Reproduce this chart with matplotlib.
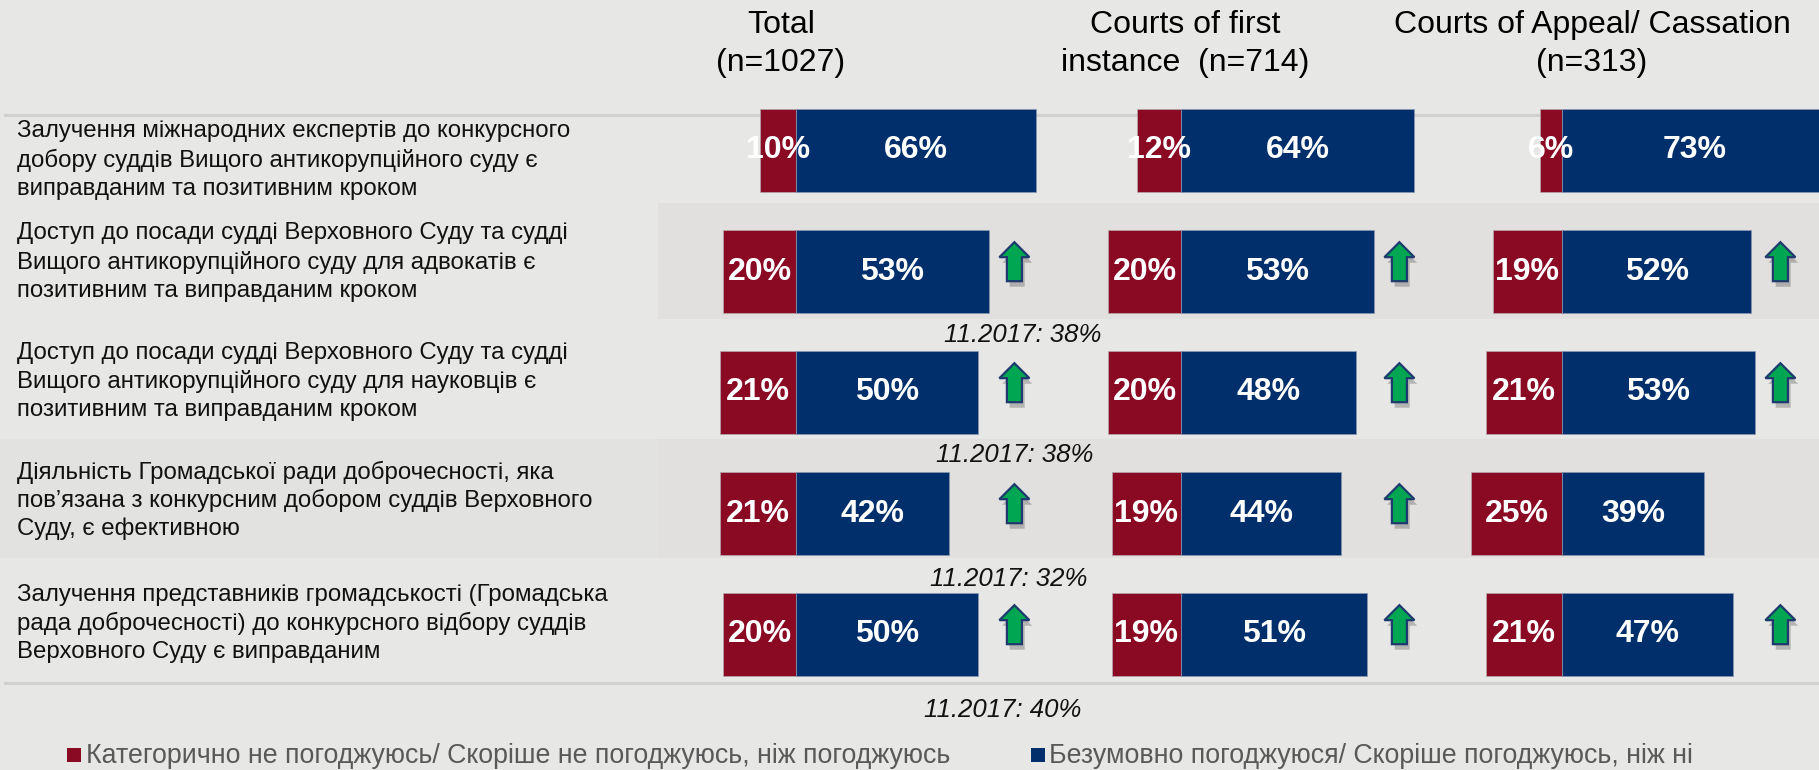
import matplotlib
matplotlib.use("Agg")
import matplotlib.pyplot as plt
from matplotlib.patches import Rectangle, FancyArrow
from matplotlib.lines import Line2D
from matplotlib import transforms as mtrans
import matplotlib.patheffects as pe

plt.rcParams['font.family'] = ['Liberation Sans', 'DejaVu Sans']

# ---- data -------------------------------------------------------------
statements = [
    "Залучення міжнародних експертів до конкурсного\nдобору суддів Вищого антикорупційного суду є\nвиправданим та позитивним кроком",
    "Доступ до посади судді Верховного Суду та судді\nВищого антикорупційного суду для адвокатів є\nпозитивним та виправданим кроком",
    "Доступ до посади судді Верховного Суду та судді\nВищого антикорупційного суду для науковців є\nпозитивним та виправданим кроком",
    "Діяльність Громадської ради доброчесності, яка\nпов’язана з конкурсним добором суддів Верховного\nСуду, є ефективною",
    "Залучення представників громадськості (Громадська\nрада доброчесності) до конкурсного відбору суддів\nВерховного Суду є виправданим",
]

column_titles = [
    "Total\n(n=1027)",
    "Courts of first\ninstance  (n=714)",
    "Courts of Appeal/ Cassation\n(n=313)",
]

total_disagree = [10, 20, 21, 21, 20]
total_agree = [66, 53, 50, 42, 50]
first_disagree = [12, 20, 20, 19, 19]
first_agree = [64, 53, 48, 44, 51]
appeal_disagree = [6, 19, 21, 25, 21]
appeal_agree = [73, 52, 53, 39, 47]

total_up = [False, True, True, True, True]
first_up = [False, True, True, True, True]
appeal_up = [False, True, True, False, True]

notes_2017 = ["11.2017: 38%", "11.2017: 38%", "11.2017: 32%", "11.2017: 40%"]

legend_labels = [
    "Категорично не погоджуюсь/ Скоріше не погоджуюсь, ніж погоджуюсь",
    "Безумовно погоджуюся/ Скоріше погоджуюсь, ніж ні",
]

# ---- style ------------------------------------------------------------
BG = "#e7e7e5"
BAND = "#e1e0de"
RED = "#8a0a24"
BLUE = "#002f6b"
GREEN = "#00a651"
ARROW_EDGE = "#1f3a6e"
RULE = "#d0d0d0"
LEGEND_TXT = "#595959"

W, H, DPI = 1819, 770, 100
PX_PER_PCT = 3.64
XMIN, XMAX = -30, 70
ROW_TOP, ROW_PITCH = 90, 121
N = len(statements)
BAR_H = 83 / ROW_PITCH
DIVIDERS = [796, 1181, 1562]          # where disagree/agree meet, per column
TITLE_X = [781, 1185, 1592]
LABEL_DY = [9.5, -9.5, -11, -13, -11]  # text block centre vs bar centre, px
NOTE_X = [62.4, 60.2, 58.5, 56.9]
NOTE_DY = [0.525, 0.517, 0.54, 0.62]

fig = plt.figure(figsize=(W / DPI, H / DPI), dpi=DPI)
fig.patch.set_facecolor(BG)


def px_rect(x0, y0, w, h):
    return [x0 / W, 1 - (y0 + h) / H, w / W, h / H]


# background bands and rules
fig.add_artist(Rectangle((658 / W, 1 - 319 / H), 1 - 658 / W, 116 / H,
                         transform=fig.transFigure, color=BAND, zorder=-3, lw=0))
fig.add_artist(Rectangle((0, 1 - 558 / H), 658 / W, 119 / H,
                         transform=fig.transFigure, color="#e2e2e0", zorder=-3, lw=0))
fig.add_artist(Rectangle((658 / W, 1 - 558 / H), 1 - 658 / W, 119 / H,
                         transform=fig.transFigure, color=BAND, zorder=-3, lw=0))
for yy in (115, 683):
    fig.add_artist(Line2D([5 / W, 1], [1 - yy / H] * 2, transform=fig.transFigure,
                          color=RULE, lw=2.2, zorder=-2))

columns = [
    (total_disagree, total_agree, total_up),
    (first_disagree, first_agree, first_up),
    (appeal_disagree, appeal_agree, appeal_up),
]

axes = []
ys = list(range(N))
for c, (dis, agr, up) in enumerate(columns):
    ax = fig.add_axes(px_rect(DIVIDERS[c] + XMIN * PX_PER_PCT, ROW_TOP,
                              (XMAX - XMIN) * PX_PER_PCT, N * ROW_PITCH))
    ax.set_xlim(XMIN, XMAX)
    ax.set_ylim(N - 0.5, -0.5)
    ax.axis("off")
    ax.patch.set_alpha(0)
    axes.append(ax)

    ax.barh(ys, dis, left=[-d for d in dis], height=BAR_H, color=RED,
            edgecolor="#b3a9ad", linewidth=0.5, clip_on=False)
    ax.barh(ys, agr, left=0, height=BAR_H, color=BLUE,
            edgecolor="#8a97b3", linewidth=0.5, clip_on=False)

    for i in ys:
        ax.text(-dis[i] / 2, i, f"{dis[i]}%", ha="center", va="center",
                color="white", fontsize=23, fontweight="bold")
        ax.text(agr[i] / 2, i, f"{agr[i]}%", ha="center", va="center",
                color="white", fontsize=23, fontweight="bold")
        if up[i]:
            arr = FancyArrow(60, i + 0.08, 0, -39 / ROW_PITCH,
                             width=15 / PX_PER_PCT, head_width=30 / PX_PER_PCT,
                             head_length=15 / ROW_PITCH, length_includes_head=True,
                             fc=GREEN, ec=ARROW_EDGE, lw=1.6, zorder=3)
            arr.set_path_effects([
                pe.SimplePatchShadow(offset=(2, -4), shadow_rgbFace="black", alpha=0.22),
                pe.Normal(),
            ])
            ax.add_patch(arr)

# earlier wave values under the total column
for k, note in enumerate(notes_2017):
    axes[0].text(NOTE_X[k], k + 1 + NOTE_DY[k], note, ha="center", va="center",
                 fontsize=18.5, fontstyle="italic", color="#111111")

# column headings
for c, title in enumerate(column_titles):
    for j, line in enumerate(title.split("\n")):
        fig.text(TITLE_X[c] / W, 1 - (25 + 38 * j) / H, line, ha="center",
                 va="center", fontsize=23, color="black")

# statement texts
row_trans = mtrans.blended_transform_factory(fig.transFigure, axes[0].transData)
for i, st in enumerate(statements):
    lines = st.split("\n")
    for j, line in enumerate(lines):
        dy = LABEL_DY[i] + (j - (len(lines) - 1) / 2) * 28.5
        tr = mtrans.offset_copy(row_trans, fig=fig, x=0, y=-dy, units="dots")
        fig.text(17 / W, i, line, transform=tr, ha="left", va="center",
                 fontsize=17.3, color="#111111")

# legend
for (x_sq, x_txt, col, lab) in [(67, 86, RED, legend_labels[0]),
                                (1031, 1049, BLUE, legend_labels[1])]:
    fig.add_artist(Rectangle((x_sq / W, 1 - 762 / H), 14 / W, 14 / H,
                             transform=fig.transFigure, color=col, lw=0))
    fig.text(x_txt / W, 1 - 756 / H, lab, ha="left", va="center",
             fontsize=19.3, color=LEGEND_TXT)

fig.savefig("out.png", dpi=DPI, facecolor=BG)
